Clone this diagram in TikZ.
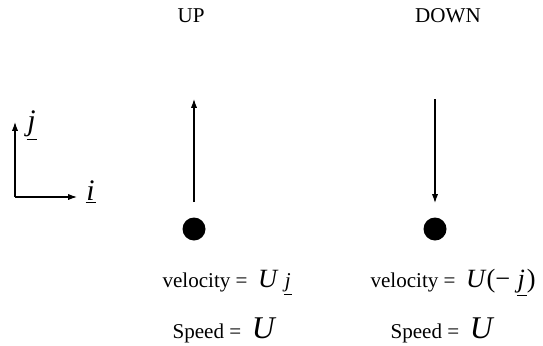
\documentclass[tikz,border=0pt]{standalone}
\usepackage{fontspec}
\setmainfont{Liberation Serif}
\usetikzlibrary{arrows.meta}

\newcommand{\uvec}[1]{\underline{\kern0.5pt\textit{#1}\kern1pt}}
\newcommand{\velU}{{\fontsize{15}{17}\selectfont\textit{U}}}
\newcommand{\spdU}{{\fontsize{18}{20}\selectfont\textit{U}}}

\begin{document}
\begin{tikzpicture}[
		x=0.02cm, y=-0.02cm,
		ball/.style={circle, fill=black, inner sep=0pt, minimum size=0.46cm},
		heading/.style={font=\fontsize{12}{14}\selectfont, inner sep=0pt},
		caption/.style={font=\fontsize{12}{15}\selectfont, inner sep=0pt},
		axislabel/.style={font=\fontsize{17}{19}\selectfont, inner sep=0pt},
		>={Latex[length=5pt, width=3.5pt]},
		line width=0.6pt
		]
		
		% Frame
		\useasboundingbox (0,0) rectangle (543,345);
		
		% Unit vectors
		\coordinate (O) at (15,197);
		\coordinate (Jtip) at (15,122);
		\coordinate (Itip) at (77,197);
		\draw[->] (O) -- (Jtip);
		\draw[->] (O) -- (Itip);
		\node[axislabel] (jlab) at (32,126) {\uvec{j}};
		\node[axislabel] (ilab) at (91,192) {\uvec{i}};
		
		% Headings
		\node[heading] (up) at (191,16) {UP};
		\node[heading] (down) at (448,16) {DOWN};
		
		% Balls
		\node[ball] (ballup) at (194,229) {};
		\node[ball] (balldown) at (435,229) {};
		
		% Velocity arrows
		\coordinate (upTail) at (194,202);
		\coordinate (upHead) at (194,99);
		\coordinate (downTail) at (435,99);
		\coordinate (downHead) at (435,203);
		\draw[->] (upTail) -- (upHead);
		\draw[->] (downTail) -- (downHead);
		
		% Texts below
		\node[caption, anchor=west] (velup) at (162,283) {velocity =\ \ \velU\ \uvec{j}};
		\node[caption, anchor=west] (veldown) at (370,283) {velocity =\ \ \velU{\fontsize{15}{17}\selectfont(−\ \uvec{j})}};
		\node[caption, anchor=west] (spdup) at (172,330) {Speed =\ \ \spdU};
		\node[caption, anchor=west] (spddown) at (390,330) {Speed =\ \ \spdU};
		
	\end{tikzpicture}
\end{document}
